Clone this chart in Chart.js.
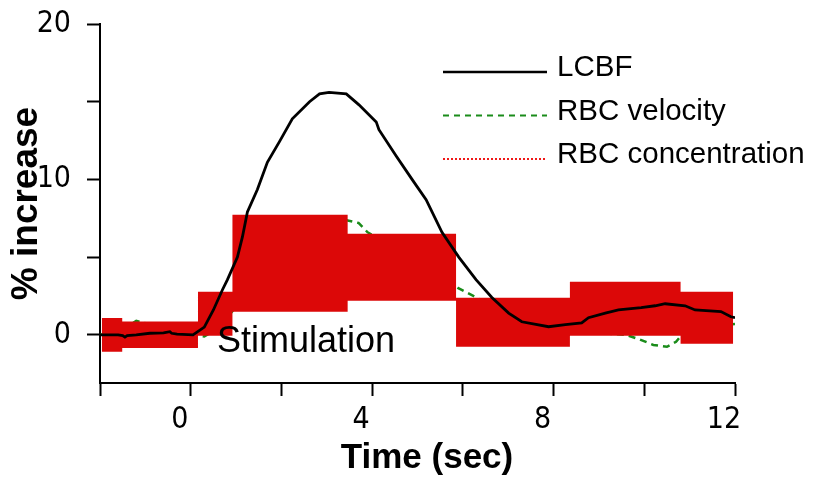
<!DOCTYPE html>
<html>
<head>
<meta charset="utf-8">
<script src="https://cdn.jsdelivr.net/npm/chart.js@4"></script>
<style>
  body { margin: 0; background: #fff; }
</style>
</head>
<body>
<canvas id="lcbfChart" width="828" height="477"></canvas>
<script>
// LCBF trace (time in sec, % increase)
const lcbfTime = [-2, -1.6, -1.5, -1.45, -1.4, -1.2, -0.9, -0.6, -0.46, -0.42, -0.3, 0.05, 0.3, 0.5, 0.7, 0.81, 1.03, 1.14, 1.25, 1.47, 1.69, 1.96, 2.24, 2.62, 2.84, 3.05, 3.43, 3.71, 4.09, 4.15, 4.53, 4.88, 5.19, 5.54, 5.91, 6.29, 6.64, 7.01, 7.3, 7.89, 8.26, 8.62, 8.77, 9.14, 9.43, 9.93, 10.24, 10.46, 10.9, 11.12, 11.69, 11.91, 12];
const lcbfValue = [0, 0, -0.05, -0.15, -0.05, 0, 0.1, 0.12, 0.2, 0.1, 0.05, 0, 0.5, 1.6, 2.9, 3.55, 5.0, 6.3, 7.9, 9.35, 11.1, 12.45, 13.9, 15.0, 15.5, 15.6, 15.5, 14.8, 13.7, 13.2, 11.5, 10.0, 8.7, 6.6, 5.0, 3.55, 2.4, 1.4, 0.84, 0.52, 0.65, 0.77, 1.1, 1.4, 1.6, 1.75, 1.87, 2.0, 1.87, 1.6, 1.5, 1.16, 1.1];

// RBC velocity trace
const velTime = [-2, -1.5, -1.2, -0.8, -0.4, 0, 0.3, 0.6, 1.0, 1.5, 2.0, 2.5, 3.0, 3.4, 3.7, 3.9, 4.5, 5.0, 5.5, 5.9, 6.3, 6.8, 7.3, 7.8, 8.3, 8.8, 9.3, 9.6, 9.9, 10.2, 10.5, 10.7, 10.8, 11.0, 11.3, 11.6, 12];
const velValue = [0, 0.3, 0.9, 0.6, 0.2, 0, -0.1, 0.4, 1.8, 4.0, 5.6, 6.7, 7.3, 7.4, 7.2, 6.6, 5.6, 4.7, 3.8, 3.0, 2.4, 1.6, 1.1, 0.7, 0.4, 0.2, 0.05, 0, -0.3, -0.65, -0.77, -0.45, -0.1, 0.3, 0.5, 0.6, 0.7];

// RBC concentration: one block per interval (start time, upper edge, lower edge)
const concTime = [-1.96, -1.51, 0.16, 0.92, 3.46, 5.85, 8.36, 10.8, 11.96];
const concHigh = [1.09, 0.86, 2.77, 7.72, 6.5, 2.38, 3.41, 2.77, 2.77];
const concLow = [-1.09, -0.84, -0.06, 1.48, 2.19, -0.77, -0.06, -0.58, -0.58];

const legendLabels = ["LCBF", "RBC velocity", "RBC concentration"];
const xTickLabels = [0, 4, 8, 12];
const yTickLabels = [0, 10, 20];

const tickFont = { family: "'Liberation Sans Narrow', 'DejaVu Sans Condensed', 'Liberation Sans', sans-serif", size: 30 };

function toPoints(xs, ys) {
    return xs.map((x, i) => ({ x: x, y: ys[i] }));
}

// legend drawn at the upper right like the original figure
const sideLegend = {
    id: "sideLegend",
    afterDraw(chart) {
        const ctx = chart.ctx;
        const styles = [
            { color: "#000", width: 2.5, dash: [] },
            { color: "#1a8c1a", width: 2, dash: [6, 5] },
            { color: "#f01818", width: 2, dash: [2, 2] }
        ];
        ctx.save();
        ctx.font = "29.5px 'Liberation Sans', Arial, sans-serif";
        ctx.fillStyle = "#000";
        ctx.textBaseline = "alphabetic";
        legendLabels.forEach((label, i) => {
            const y = 76 + i * 43.5;
            ctx.beginPath();
            ctx.setLineDash(styles[i].dash);
            ctx.strokeStyle = styles[i].color;
            ctx.lineWidth = styles[i].width;
            ctx.moveTo(443, y - 4);
            ctx.lineTo(547, y - 4);
            ctx.stroke();
            ctx.fillText(label, 557, y);
        });
        ctx.restore();
    }
};

// "Stimulation" note and x axis title
const notes = {
    id: "notes",
    afterDraw(chart) {
        const ctx = chart.ctx;
        const x = chart.scales.x, y = chart.scales.y;
        ctx.save();
        ctx.fillStyle = "#000";
        ctx.textBaseline = "alphabetic";
        ctx.font = "36px 'Liberation Sans', Arial, sans-serif";
        ctx.fillText("Stimulation", x.getPixelForValue(0.58), y.getPixelForValue(-1.09));
        ctx.font = "bold 35px 'Liberation Sans', Arial, sans-serif";
        ctx.textAlign = "center";
        ctx.fillText("Time (sec)", 427, 468);
        ctx.restore();
    }
};

const axisGrid = {
    display: true,
    drawOnChartArea: false,
    drawTicks: true,
    tickLength: 13,
    tickWidth: 2,
    tickColor: "#000",
    color: "#000"
};

new Chart(document.getElementById("lcbfChart"), {
    type: "line",
    data: {
        datasets: [
            {
                label: "LCBF",
                data: toPoints(lcbfTime, lcbfValue),
                borderColor: "#000",
                borderWidth: 2.8,
                pointRadius: 0,
                fill: false
            },
            {
                label: "RBC concentration",
                data: toPoints(concTime, concHigh),
                stepped: true,
                borderColor: "rgba(0,0,0,0)",
                borderWidth: 0,
                backgroundColor: "#dc0808",
                pointRadius: 0,
                fill: "+1"
            },
            {
                label: "RBC concentration (low)",
                data: toPoints(concTime, concLow),
                stepped: true,
                borderColor: "rgba(0,0,0,0)",
                borderWidth: 0,
                pointRadius: 0,
                fill: false
            },
            {
                label: "RBC velocity",
                data: toPoints(velTime, velValue),
                borderColor: "#1a8c1a",
                borderWidth: 2.5,
                borderDash: [7, 5],
                pointRadius: 0,
                fill: false
            }
        ]
    },
    options: {
        responsive: false,
        animation: false,
        layout: { padding: { top: 24, right: 93, left: 0, bottom: 0 } },
        plugins: {
            legend: { display: false },
            tooltip: { enabled: false }
        },
        scales: {
            x: {
                type: "linear",
                min: -2,
                max: 12,
                afterFit: scale => { scale.height = 94; },
                ticks: {
                    stepSize: 2,
                    autoSkip: false,
                    maxRotation: 0,
                    labelOffset: -11,
                    padding: 6,
                    color: "#000",
                    font: tickFont,
                    callback: v => xTickLabels.includes(v) ? String(v) : ""
                },
                grid: axisGrid,
                border: { display: true, color: "#000", width: 2 }
            },
            y: {
                type: "linear",
                min: -3.1,
                max: 20,
                afterFit: scale => {
                    scale.width = 100;
                    // label padding is only wanted sideways, not above the plot
                    scale.paddingTop = 0;
                    scale.paddingBottom = 0;
                },
                ticks: {
                    stepSize: 5,
                    includeBounds: false,
                    padding: 16,
                    color: "#000",
                    font: tickFont,
                    callback: v => yTickLabels.includes(v) ? String(v) : ""
                },
                grid: axisGrid,
                border: { display: true, color: "#000", width: 2 },
                title: {
                    display: true,
                    text: "% increase",
                    color: "#000",
                    padding: { top: 5, bottom: 0 },
                    font: { family: "'Liberation Sans', Arial, sans-serif", size: 37, weight: "bold" }
                }
            }
        }
    },
    plugins: [sideLegend, notes]
});
</script>
</body>
</html>
